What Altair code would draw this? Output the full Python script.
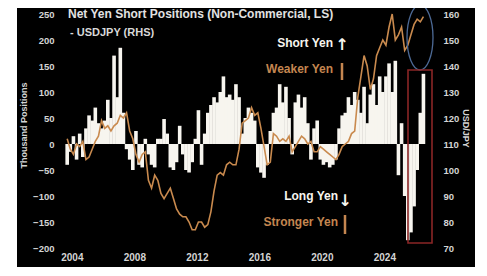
import altair as alt
import pandas as pd

# ---------------- data ----------------
start_year = 2003.7
step_years = 0.2

net_short_k = [
    -40, -15, 15, -30, 20, -25, 30, 55, 45, 70,
    40, 30, 45, 85, 50, 170, 90, 185, 60, -10,
    -30, -50, 25, -40, -45, 10, -20, -40, -45, 10,
    10, 48, 20, -45, -50, -35, 35, -20, -50, -55,
    -35, 10, 65, -40, 20, 60, 75, 90, 80, 100,
    130, 90, 95, 85, 115, 90, 20, 50, 70, 60,
    45, -45, -55, -65, -40, 25, 60, 70, 115, 80,
    110, 50, -20, 80, 95, 70, 90, 40, -30, 30,
    45, -30, -40, -35, -45, -40, -30, 30, 55, 60,
    90, 75, 100, 85, 60, 110, 40, 95, 115, 75,
    130, 100, 130, 155, 100, 160, -60, 40, -100, -185,
    -170, -120, -50, 60, 135,
]

usdjpy = [
    112, 108, 106, 110, 109, 111, 104, 105, 108, 111,
    113, 119, 116, 117, 115, 117, 118, 121, 120, 122,
    115, 112, 106, 103, 106, 107, 96, 93, 98, 96,
    91, 89, 91, 93, 89, 85, 83, 82, 82, 80,
    77, 77, 80, 80, 78, 79, 84, 92, 98, 99,
    98, 102, 103, 102, 102, 108, 118, 119, 120, 124,
    121, 122, 116, 109, 102, 103, 114, 113, 111, 112,
    111, 113, 107, 109, 111, 113, 112, 110, 111, 107,
    107, 109, 108, 107, 106, 105, 104, 106, 109, 110,
    111, 114, 115, 128, 136, 144, 140, 131, 135, 144,
    147, 150, 148, 155, 160, 150, 152, 155, 146, 148,
    152, 156, 158, 157, 159,
]

years = [round(start_year + step_years * i, 2) for i in range(len(net_short_k))]

x_tick_years = [2004, 2008, 2012, 2016, 2020, 2024]
left_ticks = [-200, -150, -100, -50, 0, 50, 100, 150, 200, 250]
right_ticks = [70, 80, 90, 100, 110, 120, 130, 140, 150, 160]

title_line1 = "Net Yen Short Positions (Non-Commercial, LS)"
title_line2 = "- USDJPY (RHS)"
left_title = "Thousand Positions"
right_title = "USD/JPY"
note_short = "Short Yen"
note_weaker = "Weaker Yen"
note_long = "Long Yen"
note_stronger = "Stronger Yen"

df = pd.DataFrame({"year": years, "net": net_short_k, "usdjpy": usdjpy})

# ---------------- styling ----------------
W, H = 380, 234
FONT = "Liberation Sans"
LABEL_GREY = "#d4d4d4"
WHITE = "#f7f5ef"
ORANGE = "#c98a4e"
ORANGE_TXT = "#c48650"

xscale = alt.Scale(domain=[2003.56, 2027.24], nice=False, zero=False)

one = pd.DataFrame({"k": [0]})

panel = alt.Chart(one).mark_rect(color="black").encode(
    x=alt.value(-43), x2=alt.value(415), y=alt.value(-6), y2=alt.value(253)
)

bars = alt.Chart(df).mark_bar(color=WHITE, size=3.6).encode(
    x=alt.X(
        "year:Q", scale=xscale, title=None,
        axis=alt.Axis(values=x_tick_years, format="d", ticks=False, domain=False, grid=False,
                      labelColor=LABEL_GREY, labelFont=FONT, labelFontWeight="bold",
                      labelFontSize=10, labelPadding=4, zindex=2),
    ),
    y=alt.Y(
        "net:Q", scale=alt.Scale(domain=[-200, 250], nice=False),
        axis=alt.Axis(values=left_ticks, title=left_title, ticks=False, domain=False, grid=False,
                      labelColor=LABEL_GREY, labelFont=FONT, labelFontWeight="bold",
                      labelFontSize=9.5, labelPadding=6, zindex=2,
                      titleColor=LABEL_GREY, titleFont=FONT, titleFontWeight="bold",
                      titleFontSize=9, titleX=-37, titleY=111, titleAngle=270,
                      titleAlign="center", titleBaseline="middle"),
    ),
)

line = alt.Chart(df).mark_line(color=ORANGE, strokeWidth=1.6).encode(
    x=alt.X("year:Q", scale=xscale),
    y=alt.Y(
        "usdjpy:Q", scale=alt.Scale(domain=[70, 160], nice=False, zero=False),
        axis=alt.Axis(orient="right", values=right_ticks, title=right_title, ticks=False,
                      domain=False, grid=False, zindex=2,
                      labelColor=LABEL_GREY, labelFont=FONT, labelFontWeight="bold",
                      labelFontSize=9.5, labelPadding=3,
                      titleColor=LABEL_GREY, titleFont=FONT, titleFontWeight="bold",
                      titleFontSize=9, titleX=25, titleY=114, titleAngle=90,
                      titleAlign="center", titleBaseline="middle"),
    ),
)


def label(text, x, y, color, size=12, align="right", font=FONT):
    return alt.Chart(pd.DataFrame({"label": [text]})).mark_text(
        align=align, baseline="middle", fontSize=size, fontWeight="bold", font=font, color=color
    ).encode(x=alt.value(x), y=alt.value(y), text="label:N")


def vrule(x, y1, y2, color, width=2.5):
    return alt.Chart(one).mark_rule(color=color, strokeWidth=width).encode(
        x=alt.value(x), y=alt.value(y1), y2=alt.value(y2)
    )


texts = [
    label(title_line1, 8, 0, "#e2e2e2", size=12, align="left"),
    label(title_line2, 10, 19, "#d8d8d8", size=11, align="left"),
    label(note_short, 273, 29, WHITE),
    label("↑", 282, 31, WHITE, size=16, align="center", font="DejaVu Sans"),
    label(note_weaker, 273, 55, ORANGE_TXT),
    vrule(282, 49, 66, ORANGE_TXT),
    label(note_long, 278, 182, WHITE),
    label("↓", 285, 187, WHITE, size=16, align="center", font="DejaVu Sans"),
    label(note_stronger, 278, 208, ORANGE_TXT),
    vrule(285, 201, 220, ORANGE_TXT),
]

ellipse = alt.Chart(one).mark_point(
    shape="M 0 -1 A 0.4 1 0 1 1 0 1 A 0.4 1 0 1 1 0 -1 Z",
    size=4225, filled=False, stroke="#4d6a96", strokeWidth=1.3, opacity=1,
).encode(x=alt.value(360), y=alt.value(23.5))

red_box = alt.Chart(one).mark_rect(
    fillOpacity=0, stroke="#8a2626", strokeWidth=1.6
).encode(x=alt.value(348), x2=alt.value(372), y=alt.value(56), y2=alt.value(229))

chart = alt.layer(panel, bars, line, *texts, ellipse, red_box).resolve_scale(
    y="independent"
).properties(
    width=W, height=H,
    autosize=alt.AutoSizeParams(type="none"),
    padding={"left": 52, "top": 6, "right": 39, "bottom": 20},
    background="white",
).configure_view(strokeWidth=0)

chart.save("out.html", embed_options={"renderer": "svg", "actions": False})
